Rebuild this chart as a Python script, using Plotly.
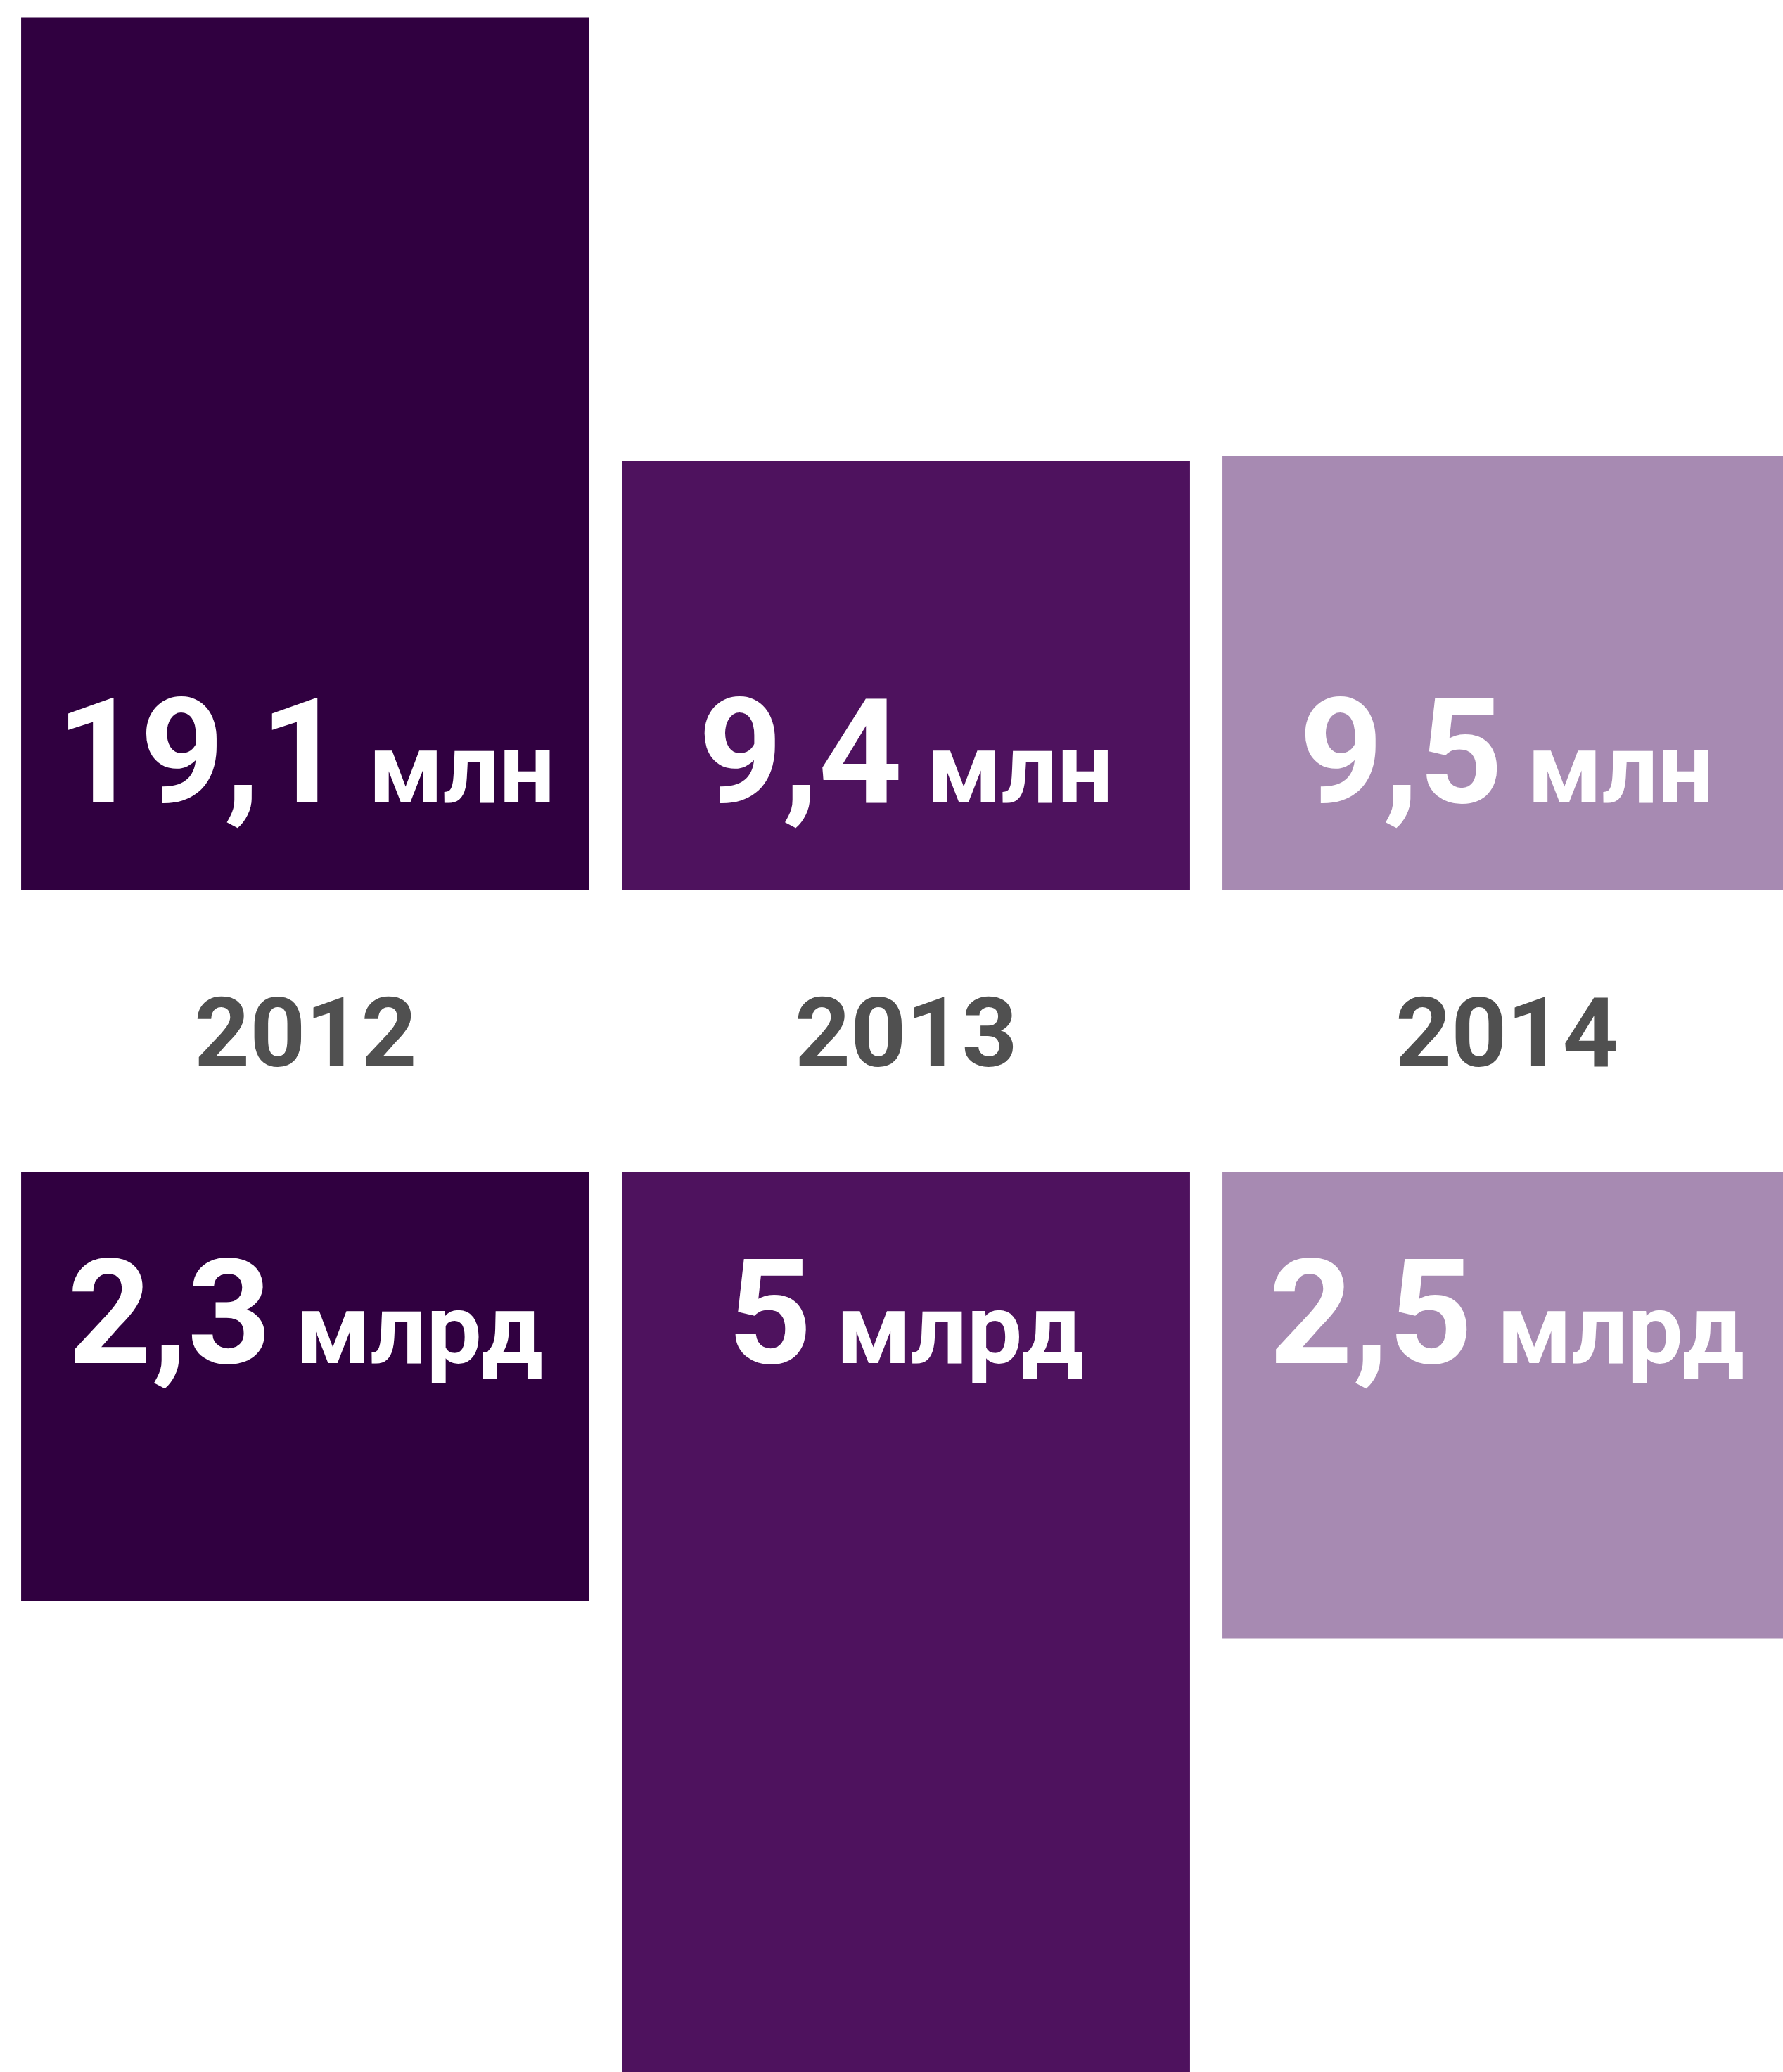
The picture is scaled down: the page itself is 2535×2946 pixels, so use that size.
import plotly.graph_objects as go

years = ["2012", "2013", "2014"]
users_mln = [19.1, 9.4, 9.5]
users_labels = ["19,1", "9,4", "9,5"]
users_unit = "млн"
money_bln = [2.3, 5.0, 2.5]
money_labels = ["2,3", "5", "2,5"]
money_unit = "млрд"
colors = ["#300040", "#4E125E", "#A78AB2"]

W, H = 2535, 2946
top_base_px = 1266
bot_base_px = 1667
year_px = 1469
c0 = 434
px_per_mln = 65.0
px_per_bln = 265.0
FONT = "Roboto"

fig = go.Figure()
fig.add_trace(go.Bar(x=years, y=users_mln, marker=dict(color=colors, line=dict(width=0)),
                     width=0.946, xaxis="x", yaxis="y", hoverinfo="skip"))
fig.add_trace(go.Bar(x=years, y=money_bln, marker=dict(color=colors, line=dict(width=0)),
                     width=0.946, xaxis="x2", yaxis="y2", hoverinfo="skip"))

xr = [-c0 / 854, (W - c0) / 854]
axis_off = dict(showgrid=False, zeroline=False, showticklabels=False, showline=False, ticks="")
fig.update_layout(
    width=W, height=H, margin=dict(l=0, r=0, t=0, b=0),
    paper_bgcolor="white", plot_bgcolor="white", showlegend=False,
    xaxis=dict(domain=[0, 1], range=xr, type="category", anchor="y", **axis_off),
    xaxis2=dict(domain=[0, 1], range=xr, type="category", anchor="y2", **axis_off),
    yaxis=dict(domain=[1 - top_base_px / H, 1], range=[0, top_base_px / px_per_mln], anchor="x", **axis_off),
    yaxis2=dict(domain=[0, 1 - bot_base_px / H], range=[(H - bot_base_px) / px_per_bln, 0], anchor="x2", **axis_off),
)

ann = []
for i, lab in enumerate(users_labels):
    ann.append(dict(x=i, y=0, xref="x", yref="y", yanchor="bottom", xanchor="center", yshift=72,
                    showarrow=False,
                    text=f"<b>{lab}</b><span style='font-size:140px'> <b>{users_unit}</b></span>",
                    font=dict(family=FONT, size=208, color="white")))
for i, lab in enumerate(money_labels):
    ann.append(dict(x=i, y=0, xref="x2", yref="y2", yanchor="top", xanchor="center", yshift=-76,
                    showarrow=False,
                    text=f"<b>{lab}</b><span style='font-size:140px'> <b>{money_unit}</b></span>",
                    font=dict(family=FONT, size=208, color="white")))
for i, yr in enumerate(years):
    ann.append(dict(x=i, y=1 - year_px / H, xref="x", yref="paper", yanchor="middle", xanchor="center",
                    showarrow=False, text=f"<b>{yr}</b>",
                    font=dict(family=FONT, size=138, color="#505050")))
fig.update_layout(annotations=ann)

fig.write_html("out.html", config={"displayModeBar": False, "staticPlot": True},
               post_script="document.body.style.margin='0';document.body.style.overflow='hidden';")
